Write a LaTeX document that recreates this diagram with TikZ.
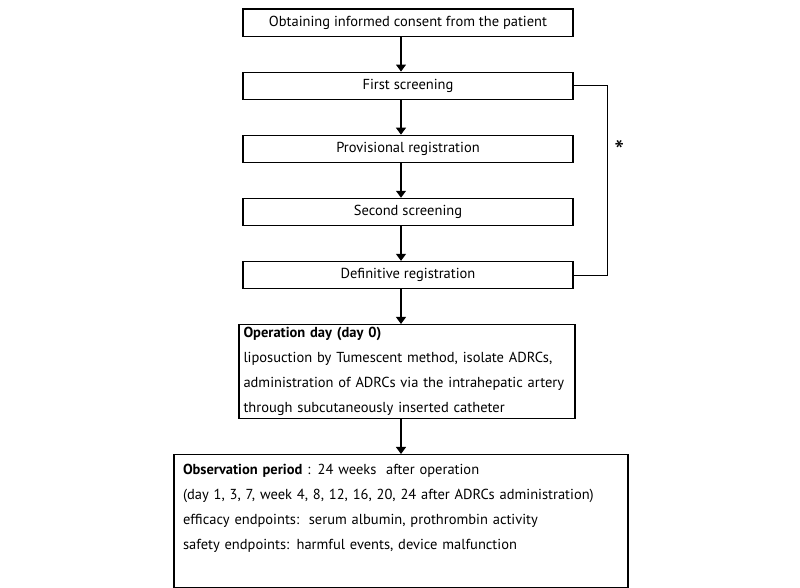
\documentclass[tikz,border=0pt]{standalone}
\usepackage{fontspec}
\setmainfont{PT Sans}
\usetikzlibrary{shapes, arrows.meta, positioning}

\begin{document}
\begin{tikzpicture}[
    x=1pt, y=1pt,
    node distance = 34.5pt,
    % box for one step
    block/.style={
        rectangle,
        draw,
        line width=1.1pt,
        minimum width=330pt,
        minimum height=27.5pt,
        inner sep=0pt,
        font=\fontsize{14.5}{17}\selectfont
    },
    % box with several lines of text
    note/.style={
        block,
        align=left,
        inner xsep=4.5pt,
        inner ysep=3pt,
        font=\fontsize{14.5}{25}\selectfont
    },
    line/.style={draw, line width=1.1pt, -{Triangle[width=10pt,length=7pt]}}
]
    \useasboundingbox (0,0) rectangle (800,-587);

    % Nodes
    \node [block] (consent) at (408,-22.75) {Obtaining informed consent from the patient};
    \node [block, below=of consent] (first) {First screening};
    \node [block, below=of first] (provisional) {Provisional registration};
    \node [block, below=of provisional] (second) {Second screening};
    \node [block, below=of second] (definitive) {Definitive registration};
    \node [note, text width=327pt, below=of definitive, xshift=-1pt] (operation) {\textbf{Operation day (day 0)}\\
        liposuction by Tumescent method, isolate ADRCs,\\
        administration of ADRCs via the intrahepatic artery\\
        through subcutaneously inserted catheter};
    \node [note, text width=436pt, inner xsep=9pt, minimum height=133pt, below=of operation, xshift=-6pt] (observation) {\textbf{Observation period} : 24 weeks\ \ after operation\\
        (day 1, 3, 7, week 4, 8, 12, 16, 20, 24 after ADRCs administration)\\
        efficacy endpoints:\ \ serum albumin, prothrombin activity\\
        safety endpoints: harmful events, device malfunction\\[4pt]
        \mbox{}};

    % Paths (Arrows)
    \path [line] (consent.south -| observation.north) -- (first.north -| observation.north);
    \path [line] (first.south -| observation.north) -- (provisional.north -| observation.north);
    \path [line] (provisional.south -| observation.north) -- (second.north -| observation.north);
    \path [line] (second.south -| observation.north) -- (definitive.north -| observation.north);
    \path [line] (definitive.south -| observation.north) -- (operation.north -| observation.north);
    \path [line] (operation.south -| observation.north) -- (observation.north);

    % bypass from first screening to definitive registration
    \draw [line width=1.1pt] (first.east) -- ++(34,0) |- (definitive.east)
        node [pos=0.17, right=3pt, font=\fontsize{28}{28}\selectfont] {*};
\end{tikzpicture}
\end{document}
